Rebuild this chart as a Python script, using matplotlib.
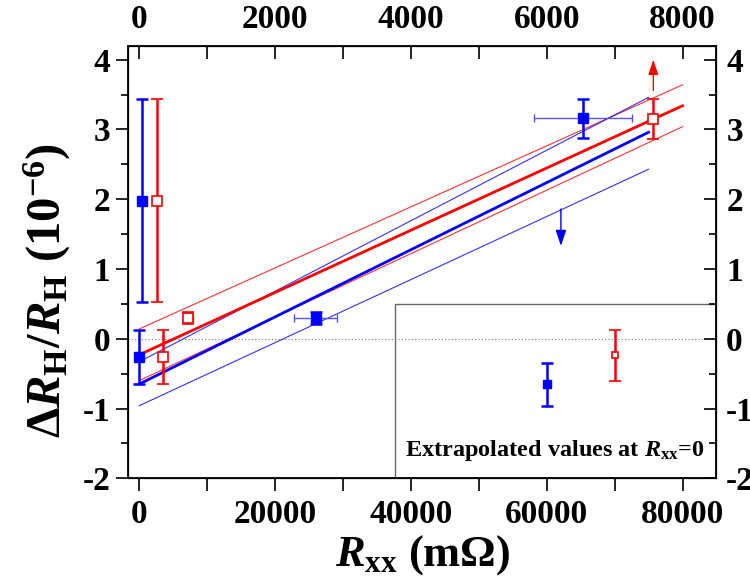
import numpy as np
import matplotlib
matplotlib.use('Agg')
import matplotlib.pyplot as plt
from matplotlib.patches import Rectangle

plt.rcParams['font.family'] = ['Liberation Serif', 'DejaVu Serif']
plt.rcParams['font.weight'] = 'bold'
plt.rcParams['mathtext.fontset'] = 'custom'
plt.rcParams['mathtext.rm'] = 'Liberation Serif:bold'
plt.rcParams['mathtext.it'] = 'Liberation Serif:italic:bold'
plt.rcParams['mathtext.bf'] = 'Liberation Serif:bold'
plt.rcParams['axes.unicode_minus'] = False

# measured points (blue = filled, red = open)
blue_x = [0, 490, 26000, 65400]
blue_y = [-0.26, 1.98, 0.30, 3.16]
blue_yerr = [0.39, 1.45, 0.09, 0.28]
blue_xerr = [0, 0, 3200, 7200]

red_x = [2600, 3580, 7260, 75680]
red_y = [1.98, -0.26, 0.30, 3.15]
red_yerr = [1.45, 0.39, 0.085, 0.28]
red_xerr = [400, 0, 660, 0]

# linear fits and their bounds (end points)
blue_fit_x = [0, 75000]
blue_fit_y = [-0.65, 2.96]
blue_up_y = [-0.33, 3.46]
blue_lo_y = [-0.96, 2.43]

red_fit_x = [0, 80000]
red_fit_y = [-0.23, 3.34]
red_up_y = [0.14, 3.64]
red_lo_y = [-0.60, 3.04]

# extrapolated values at Rxx = 0 (inset)
ext_x = [60000, 70000]
ext_y = [-0.655, -0.235]
ext_err = [0.305, 0.365]

xlim = (-1600, 85000)
ylim = (-2.0, 4.2)

BLUE = '#0000ff'
RED = '#ff0000'

fig = plt.figure(figsize=(7.5, 5.79), dpi=100)
ax = fig.add_axes([0.171, 0.1739, 0.7843, 0.7471])

ax.axhline(0, color='#777777', lw=0.8, ls=(0, (1, 2)), zorder=1)
ax.add_patch(Rectangle((37700, ylim[0]), xlim[1] - 37700, 0.5 - ylim[0],
                       fill=False, ec='#666666', lw=1.0, zorder=1))

# fits
ax.plot(red_fit_x, red_up_y, color=RED, lw=0.8, alpha=0.8, zorder=2)
ax.plot(red_fit_x, red_lo_y, color=RED, lw=0.8, alpha=0.8, zorder=2)
ax.plot(blue_fit_x, blue_up_y, color=BLUE, lw=0.8, alpha=0.8, zorder=2)
ax.plot(blue_fit_x, blue_lo_y, color=BLUE, lw=0.8, alpha=0.8, zorder=2)
ax.plot(red_fit_x, red_fit_y, color=RED, lw=2.0, zorder=3)
ax.plot(blue_fit_x, blue_fit_y, color=BLUE, lw=2.0, zorder=3)

# x error bars (thin)
ax.errorbar(blue_x, blue_y, xerr=blue_xerr, fmt='none', ecolor='#5555ff',
            elinewidth=1.0, capsize=3, capthick=1.0, zorder=4)
ax.errorbar(red_x, red_y, xerr=red_xerr, fmt='none', ecolor=RED,
            elinewidth=1.0, capsize=3, capthick=1.0, zorder=4)
# y error bars + markers
ax.errorbar(blue_x, blue_y, yerr=blue_yerr, fmt='s', color=BLUE, ms=6.5,
            elinewidth=1.8, capsize=4, capthick=1.8, zorder=5)
ax.errorbar(red_x, red_y, yerr=red_yerr, fmt='s', color=RED, mfc='white',
            mec=RED, mew=1.2, ms=6.5, elinewidth=1.8, capsize=4, capthick=1.8, zorder=5)

ax.errorbar(ext_x[:1], ext_y[:1], yerr=ext_err[:1], fmt='s', color=BLUE, ms=6,
            elinewidth=1.8, capsize=4, capthick=1.8, zorder=5)
ax.errorbar(ext_x[1:], ext_y[1:], yerr=ext_err[1:], fmt='s', color=RED, mfc='white',
            mec=RED, mew=1.2, ms=5, elinewidth=1.8, capsize=4, capthick=1.8, zorder=5)

# arrows
arrow = '-|>,head_length=0.6,head_width=0.2'
ax.annotate('', xy=(75700, 4.0), xytext=(75700, 3.56),
            arrowprops=dict(arrowstyle=arrow, color=RED, lw=1.0, mutation_scale=15,
                            shrinkA=0, shrinkB=0))
ax.annotate('', xy=(62100, 1.33), xytext=(62100, 1.86),
            arrowprops=dict(arrowstyle=arrow, color=BLUE, lw=1.0, mutation_scale=16,
                            shrinkA=0, shrinkB=0))

ax.text(39100, -1.675, r'Extrapolated values at $R_{\rm xx}$=0', fontsize=17.5,
        fontweight='bold', va='baseline', ha='left')

ax.set_xlim(*xlim)
ax.set_ylim(*ylim)
ax.set_xticks([0, 20000, 40000, 60000, 80000])
ax.set_xticks(np.arange(10000, 85000, 20000), minor=True)
ax.set_yticks([-2, -1, 0, 1, 2, 3, 4])
ax.set_yticks(np.arange(-1.5, 4.1, 1.0), minor=True)
ax.tick_params(axis='both', which='both', direction='out', labelsize=24, width=1.2)
ax.tick_params(axis='x', which='both', length=9, pad=6)
ax.tick_params(axis='y', which='major', length=9, pad=4)
ax.tick_params(axis='y', which='minor', length=5)
for s in ax.spines.values():
    s.set_linewidth(1.3)

# top axis (x / 10)
axt = ax.twiny()
axt.set_xlim(xlim[0] / 10, xlim[1] / 10)
axt.set_xticks([0, 2000, 4000, 6000, 8000])
axt.set_xticks(np.arange(1000, 8500, 2000), minor=True)
axt.tick_params(axis='x', which='both', direction='in', length=9, width=1.2,
                labelsize=24, pad=8)

# right axis
axr = ax.twinx()
axr.set_ylim(*ylim)
axr.set_yticks([-2, -1, 0, 1, 2, 3, 4])
axr.set_yticks(np.arange(-1.5, 4.1, 1.0), minor=True)
axr.tick_params(axis='y', which='major', direction='in', length=9, width=1.2,
                labelsize=24, pad=7)
axr.tick_params(axis='y', which='minor', direction='in', length=5, width=1.2)

fig.text(47 / 750, 1 - 290 / 579, r'Δ$R_{\rm H}$/$R_{\rm H}$ ($10^{-6}$)',
         rotation=90, ha='center', va='center', fontsize=35, fontweight='bold')
fig.text(423 / 750, 1 - 566 / 579, r'$R_{\rm xx}$ (mΩ)', ha='center', va='baseline',
         fontsize=32, fontweight='bold')

fig.savefig('out.png', dpi=100)
